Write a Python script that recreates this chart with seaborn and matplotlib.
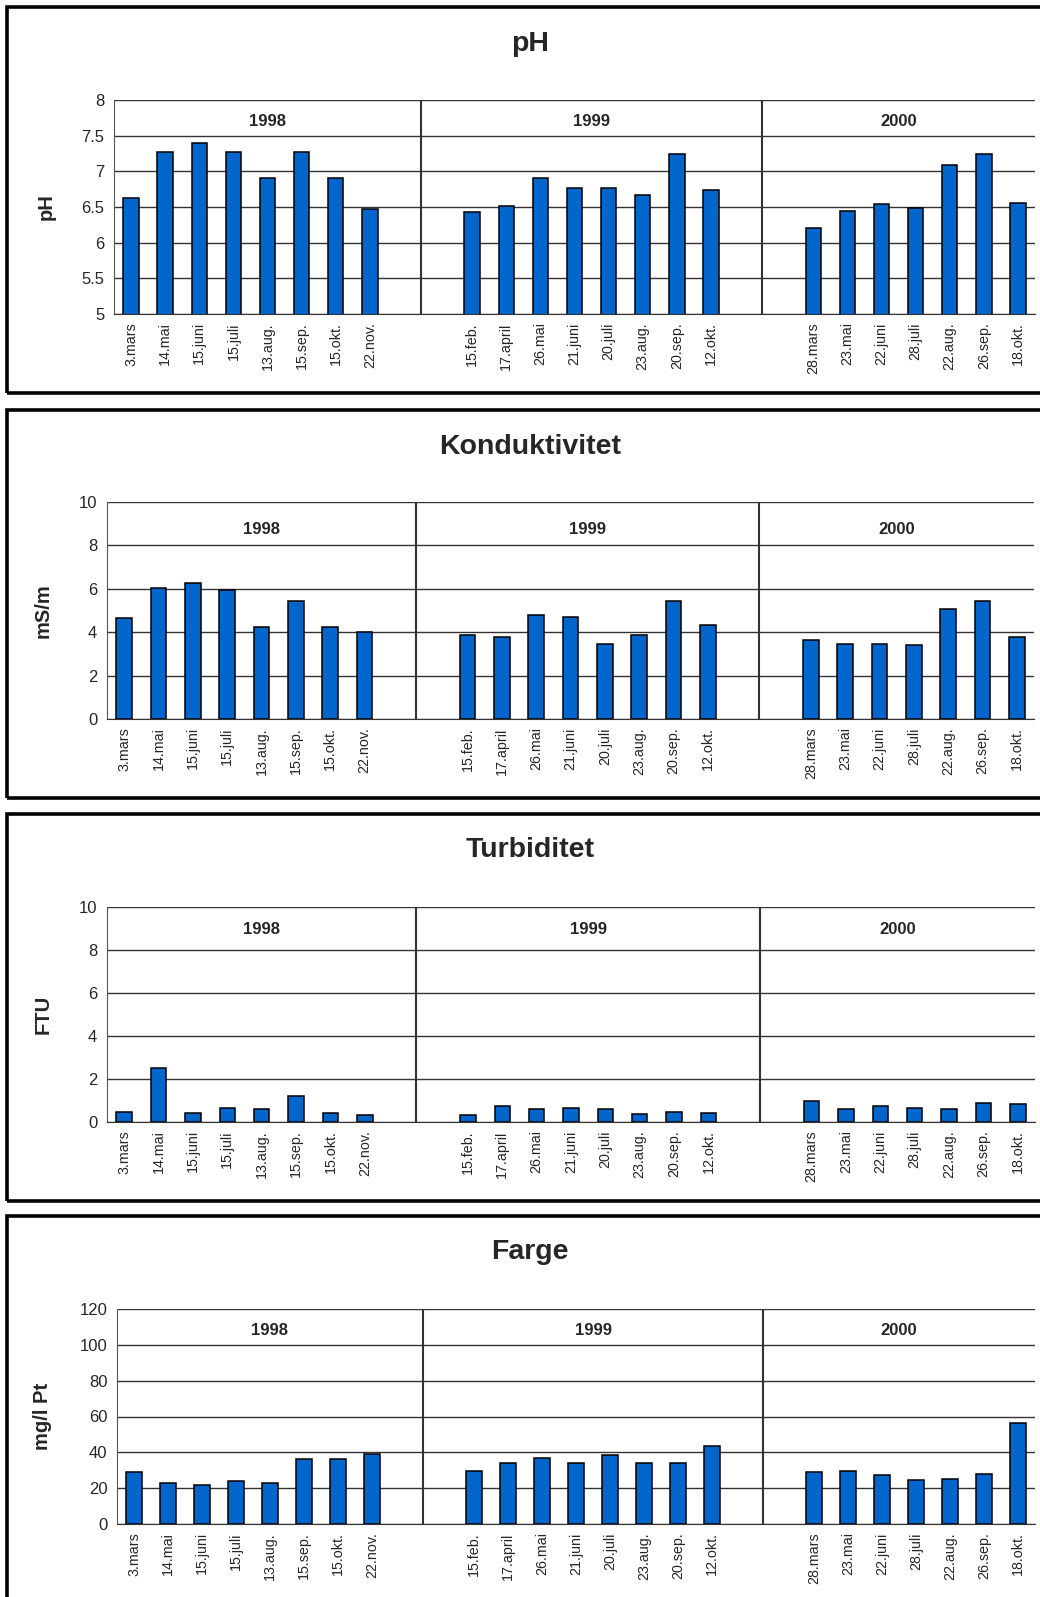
import pandas as pd
import matplotlib.pyplot as plt
import seaborn as sns
from matplotlib.patches import Rectangle
from matplotlib.ticker import FixedLocator


dates_1998 = ['3.mars', '14.mai', '15.juni', '15.juli', '13.aug.', '15.sep.', '15.okt.', '22.nov.']
dates_1999 = ['15.feb.', '17.april', '26.mai', '21.juni', '20.juli', '23.aug.', '20.sep.', '12.okt.']
dates_2000 = ['28.mars', '23.mai', '22.juni', '28.juli', '22.aug.', '26.sep.', '18.okt.']
years = ['1998', '1999', '2000']

# values per sampling date (1998, 1999, 2000 in order)
ph = [6.63, 7.27, 7.4, 7.27, 6.9, 7.27, 6.9, 6.47,
      6.43, 6.52, 6.9, 6.76, 6.76, 6.67, 7.25, 6.74,
      6.21, 6.45, 6.54, 6.48, 7.09, 7.25, 6.56]
kond = [4.65, 6.04, 6.27, 5.93, 4.24, 5.45, 4.24, 4.01,
        3.87, 3.76, 4.78, 4.72, 3.47, 3.87, 5.44, 4.35,
        3.66, 3.47, 3.47, 3.39, 5.08, 5.44, 3.76]
turb = [0.48, 2.5, 0.42, 0.67, 0.59, 1.23, 0.42, 0.31,
        0.31, 0.73, 0.59, 0.67, 0.59, 0.37, 0.48, 0.42,
        0.96, 0.59, 0.75, 0.67, 0.59, 0.9, 0.84]
farge = [28.8, 23.1, 21.6, 23.8, 23.1, 36.3, 36.3, 39.1,
         29.6, 34.0, 37.0, 34.0, 38.3, 34.0, 34.0, 43.5,
         28.8, 29.6, 27.3, 24.6, 25.3, 28.1, 56.6]

titles = ['pH', 'Konduktivitet', 'Turbiditet', 'Farge']
ylabels = ['pH', 'mS/m', 'FTU', 'mg/l Pt']
series = [ph, kond, turb, farge]
yticks = [[5, 5.5, 6, 6.5, 7, 7.5, 8],
          [0, 2, 4, 6, 8, 10],
          [0, 2, 4, 6, 8, 10],
          [0, 20, 40, 60, 80, 100, 120]]

# category slots: each year's dates, with two empty slots between years
groups = [dates_1998, dates_1999, dates_2000]
slot_keys, slot_labels, data_keys = [], [], []
for gi, g in enumerate(groups):
    for d in g:
        slot_keys.append(years[gi] + ' ' + d)
        slot_labels.append(d)
        data_keys.append(years[gi] + ' ' + d)
    if gi < len(groups) - 1:
        for k in range(2):
            slot_keys.append('gap%d%d' % (gi, k))
            slot_labels.append('')

bounds = [-0.5]
n = 0
for gi, g in enumerate(groups):
    n += len(g)
    if gi < len(groups) - 1:
        bounds.append(n + 0.5)
        n += 2
bounds.append(len(slot_keys) - 0.5)

sns.set_style('white')
plt.rcParams['font.family'] = ['Liberation Sans', 'DejaVu Sans']

W, H = 1040, 1597
fig = plt.figure(figsize=(W / 100, H / 100), dpi=100)

# pixel layout: axes (left, top, right, bottom), box (top, bottom), title y, ylabel x
axes_px = [(114, 100, 1035, 314), (107, 502, 1034, 719),
           (107, 907, 1035, 1122), (117, 1309, 1035, 1524)]
box_px = [(7, 393), (410, 798), (814, 1201), (1216, 1610)]
title_y = [44, 447, 850, 1252]
ylab_x = [46, 43, 43, 43]
year_y = [0.9, 0.875, 0.895, 0.9]

bar_color = '#0066CC'
line_col = '#333333'

for i in range(4):
    top, bot = box_px[i]
    fig.patches.append(Rectangle((7 / W, 1 - bot / H), 1.1, (bot - top) / H,
                                 transform=fig.transFigure, fill=False,
                                 edgecolor='black', linewidth=2.6, clip_on=False))

    l, t, r, b = axes_px[i]
    ax = fig.add_axes([l / W, 1 - b / H, (r - l) / W, (b - t) / H])

    df = pd.DataFrame({'slot': data_keys, 'value': series[i]})
    sns.barplot(data=df, x='slot', y='value', order=slot_keys, color=bar_color,
                saturation=1, edgecolor='black', linewidth=1.1, width=0.45,
                errorbar=None, ax=ax)

    ax.set_xlim(bounds[0], bounds[-1])
    ax.set_ylim(yticks[i][0], yticks[i][-1])
    ax.set_yticks(yticks[i])
    ax.set_yticklabels(['%g' % v for v in yticks[i]])
    ax.set_xticks(range(len(slot_keys)))
    ax.set_xticklabels(slot_labels, rotation=90, fontsize=10.3)
    ax.xaxis.set_minor_locator(FixedLocator([k - 0.5 for k in range(len(slot_keys) + 1)]))
    ax.tick_params(axis='x', which='major', length=0, pad=6)
    ax.tick_params(axis='x', which='minor', length=4, width=1, color=line_col, direction='out')
    ax.tick_params(axis='y', length=4, width=1, color=line_col, direction='out',
                   labelsize=12, pad=3)
    ax.set_xlabel('')
    ax.set_ylabel('')

    ax.yaxis.grid(True, color=line_col, linewidth=1)
    ax.set_axisbelow(True)
    for side in ['top', 'right']:
        ax.spines[side].set_visible(False)
    ax.spines['left'].set_color('#555555')
    ax.spines['bottom'].set_color(line_col)

    for xb in bounds[1:-1]:
        ax.axvline(xb, color=line_col, linewidth=1.5, zorder=3)
    for gi in range(len(years)):
        ax.text((bounds[gi] + bounds[gi + 1]) / 2, year_y[i], years[gi],
                transform=ax.get_xaxis_transform(), ha='center', va='center',
                fontsize=12, fontweight='bold')

    fig.text(530 / W, 1 - title_y[i] / H, titles[i], ha='center', va='center',
             fontsize=20.5, fontweight='bold')
    fig.text(ylab_x[i] / W, 1 - ((t + b) / 2) / H, ylabels[i], rotation=90,
             ha='center', va='center', fontsize=14.5, fontweight='bold')

fig.savefig('out.png', dpi=100, facecolor='white')
